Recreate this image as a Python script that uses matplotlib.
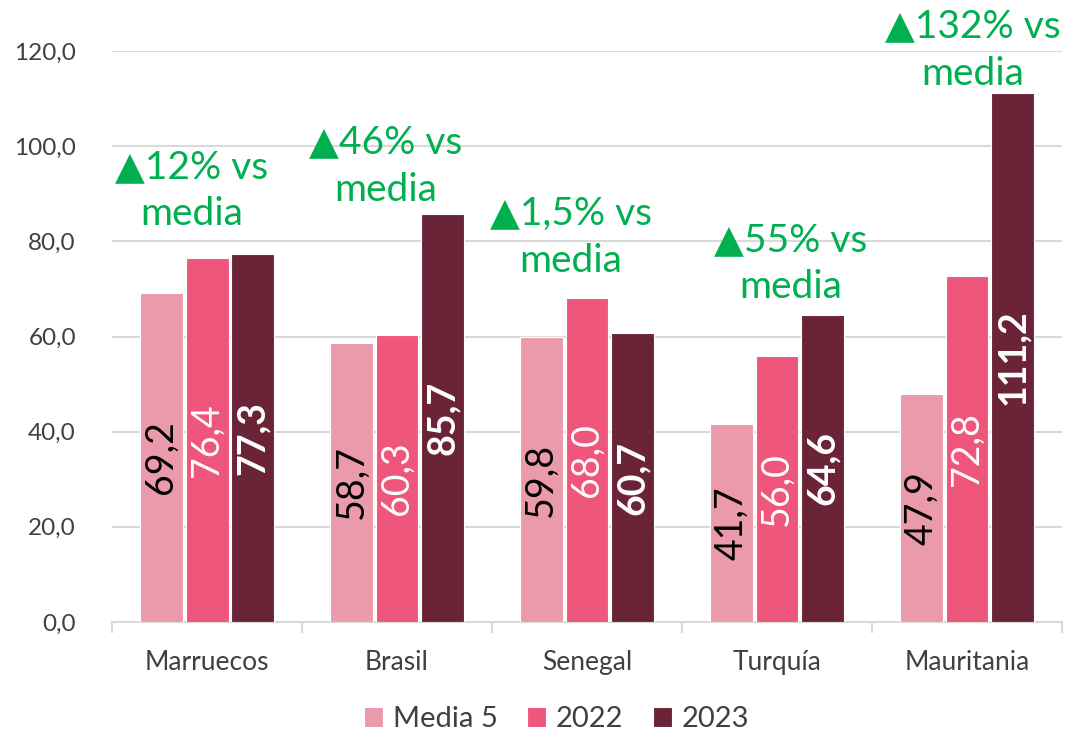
import numpy as np
import matplotlib
matplotlib.use("Agg")
import matplotlib.pyplot as plt

plt.rcParams["font.family"] = ["Lato", "DejaVu Sans"]

countries = ["Marruecos", "Brasil", "Senegal", "Turquía", "Mauritania"]
media5 = [69.2, 58.7, 59.8, 41.7, 47.9]
y2022 = [76.4, 60.3, 68.0, 56.0, 72.8]
y2023 = [77.3, 85.7, 60.7, 64.6, 111.2]
series_names = ["Media 5", "2022", "2023"]
changes = ["12%", "46%", "1,5%", "55%", "132%"]

# annotation placement (data coords), tuned by eye
note_dx = [-0.08, -0.06, -0.085, 0.07, 0.03]
note_y = [90.6, 95.8, 80.9, 75.4, 120.2]

COLORS = ["#EA9AAB", "#EE567C", "#6B2338"]
LABEL_COLORS = ["black", "white", "white"]
LABEL_WEIGHTS = ["normal", "normal", "bold"]
GREEN = "#00B050"
GREY = "#404040"

fig = plt.figure(figsize=(10.91, 7.34), dpi=100)
ax = fig.add_axes([0.1027, 0.1526, 0.8707, 0.7779])

x = np.arange(len(countries))
w = 0.226
step = 0.2415
for i, (vals, name) in enumerate(zip([media5, y2022, y2023], series_names)):
    pos = x + (i - 1) * step
    ax.bar(pos, vals, width=w, color=COLORS[i], edgecolor="white",
           linewidth=0.8, label=name, zorder=3)
    for px, v in zip(pos, vals):
        ax.text(px, v / 2, f"{v:.1f}".replace(".", ","), rotation=90,
                ha="center", va="center", fontsize=27, color=LABEL_COLORS[i],
                fontweight=LABEL_WEIGHTS[i], zorder=4)

for xi, ch, dx, ny in zip(x, changes, note_dx, note_y):
    ax.text(xi + dx, ny, f"▲{ch} vs\nmedia", ha="center", va="center",
            fontsize=28, color=GREEN, linespacing=1.38, zorder=5,
            clip_on=False)

ax.set_xlim(-0.5, len(countries) - 0.5)
ax.set_ylim(0, 120)
ax.set_yticks(np.arange(0, 121, 20))
ax.set_yticklabels([f"{t:.1f}".replace(".", ",") for t in np.arange(0, 121, 20)])
ax.tick_params(axis="y", length=0, pad=26, labelsize=17.5, labelcolor=GREY)
ax.set_xticks(x)
ax.set_xticklabels(countries)
ax.tick_params(axis="x", length=0, pad=20, labelsize=19, labelcolor=GREY)
ax.set_xticks(np.arange(-0.5, len(countries)), minor=True)
ax.tick_params(axis="x", which="minor", length=8, width=1.5, color="#D9D9D9",
               direction="out")
ax.grid(axis="y", color="#D9D9D9", lw=1.5, zorder=0)
for s in ["top", "right", "left"]:
    ax.spines[s].set_visible(False)
ax.spines["bottom"].set_color("#D9D9D9")
ax.spines["bottom"].set_linewidth(1.5)

leg = fig.legend(loc="center", bbox_to_anchor=(0.51, 0.02), ncol=3,
                 frameon=False, fontsize=21, handlelength=0.65,
                 handleheight=0.65, handletextpad=0.35, columnspacing=1.0)
for t in leg.get_texts():
    t.set_color(GREY)

fig.savefig("out.png", dpi=100)
